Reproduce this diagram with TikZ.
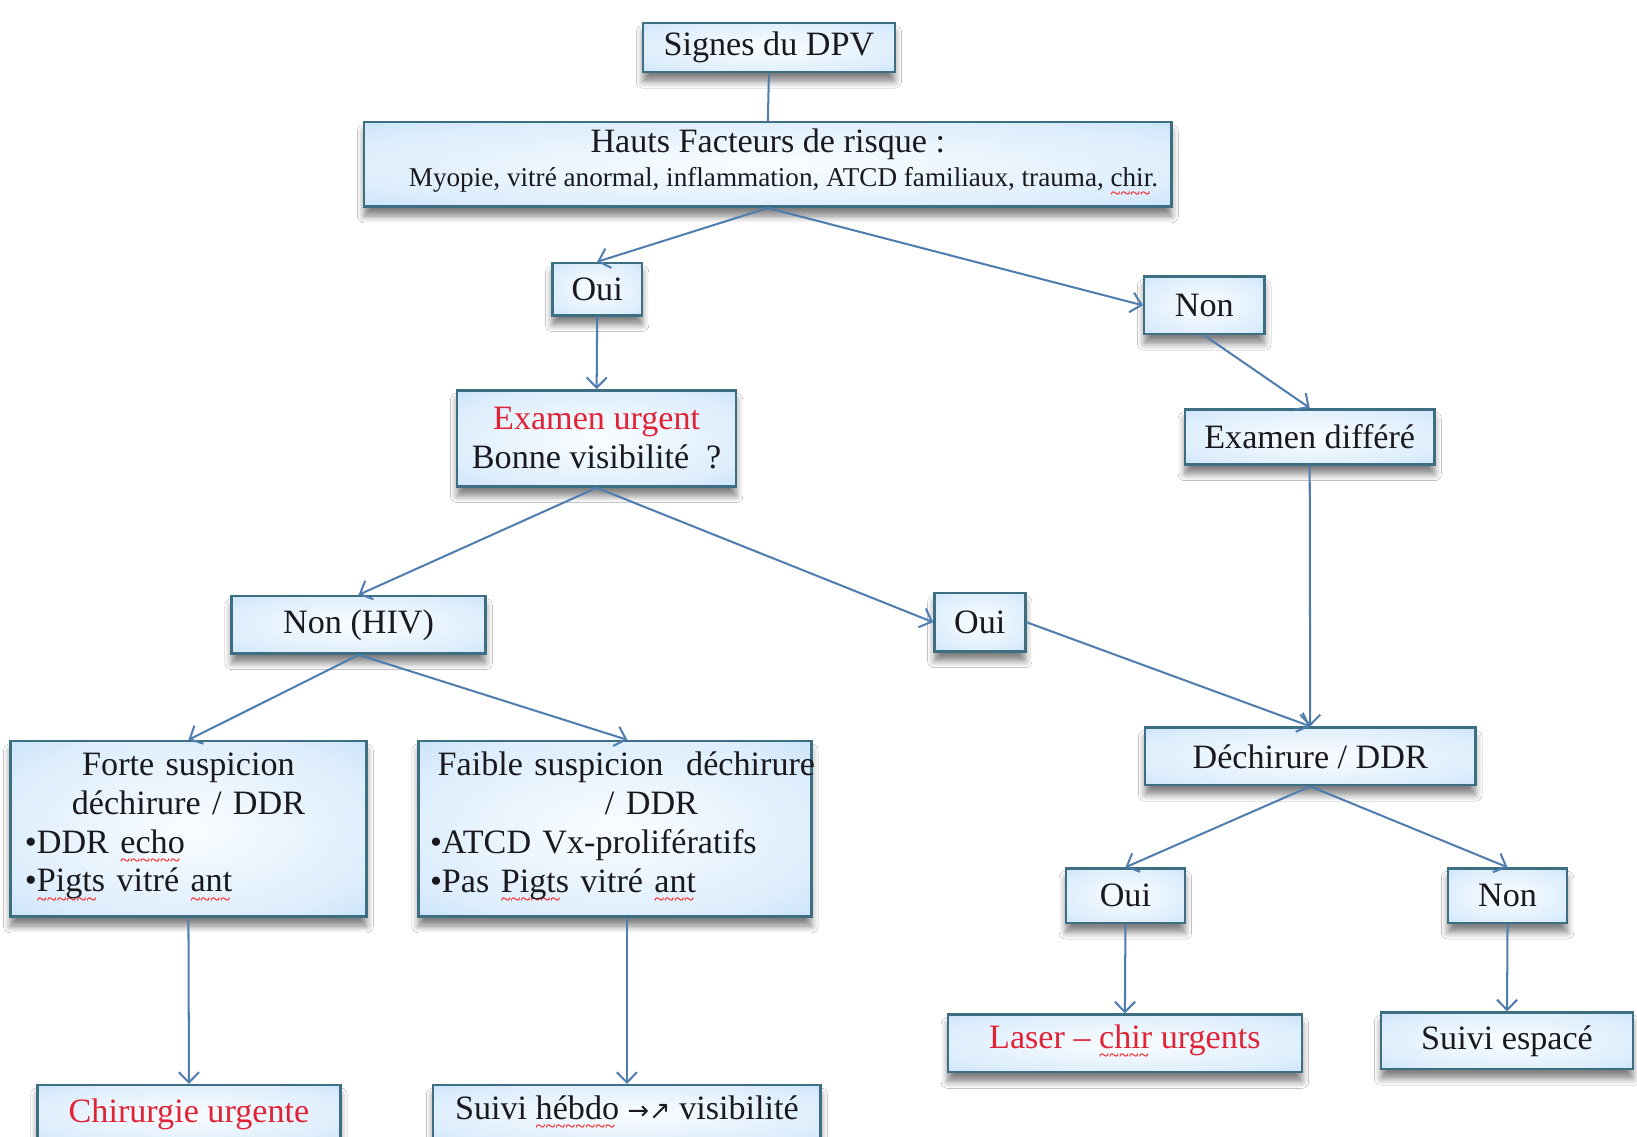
\documentclass[tikz,border=0pt]{standalone}
\usepackage{fontspec}
\setmainfont{Liberation Serif}
\newfontfamily\arrowfont{DejaVu Sans}
\usetikzlibrary{arrows.meta,shadows.blur}
\definecolor{boxedge}{RGB}{62,110,130}
\definecolor{glowin}{RGB}{250,253,255}
\definecolor{glowmid}{RGB}{220,237,252}
\definecolor{glowout}{RGB}{168,208,243}
\definecolor{linkblue}{RGB}{80,125,175}
\definecolor{alert}{RGB}{225,35,55}
\definecolor{ink}{RGB}{25,25,30}
% soft glow used as box fill
\pgfdeclareradialshading{boxglow}{\pgfpoint{0bp}{0bp}}{%
  color(0bp)=(glowin); color(28bp)=(glowmid); color(52bp)=(glowout); color(75bp)=(glowout)}
% spell-check style wavy underline, built from small tildes
\newcommand\sq[1]{\setbox0\hbox{#1}\rlap{\textcolor{red}{\raisebox{-3.6pt}{\hbox to \wd0{\fontsize{5}{5}\selectfont\leaders\hbox{\char"007E}\hfil}}}}#1}

\begin{document}
\begin{tikzpicture}[x=0.01cm,y=-0.01cm,
  box/.style={draw=boxedge, line width=0.7pt, shading=boxglow,
     blur shadow={shadow xshift=0pt, shadow yshift=-0.09cm, shadow blur steps=6, shadow opacity=50},
     text=ink, font=\fontsize{9.3}{10.6}\selectfont, align=center, inner sep=0pt},
  conn/.style={draw=linkblue, line width=0.55pt, -{Straight Barb[length=2.8pt,width=5.5pt]}},
  link/.style={draw=linkblue, line width=0.55pt},
  ]
\path[use as bounding box, clip] (0,0) rectangle (1568,1089);
\fill[white] (0,0) rectangle (1568,1089);

% ---- boxes ----
\node[box, minimum width=2.41cm, minimum height=0.47cm] (sig) at (736.5,45.5) {Signes du DPV};
\node[box, minimum width=7.73cm, minimum height=0.81cm] (hfr) at (735.5,157.5)
  {Hauts Facteurs de risque :\\[-1.5pt]{\fontsize{7.4}{8.4}\selectfont\hspace*{0.3cm}Myopie, vitré anormal, inflammation, ATCD familiaux, trauma, \sq{chir.}}};
\node[box, minimum width=0.86cm, minimum height=0.50cm] (oui1) at (572,277) {Oui};
\node[box, minimum width=1.15cm, minimum height=0.55cm] (non1) at (1153.5,292.5) {Non};
\node[box, minimum width=2.67cm, minimum height=0.92cm] (exu) at (571.5,420)
  {\textcolor{alert}{Examen urgent}\\Bonne visibilité\ \ ?};
\node[box, minimum width=2.39cm, minimum height=0.53cm] (exd) at (1254.5,418.5) {Examen différé};
\node[box, minimum width=2.43cm, minimum height=0.55cm] (nonhiv) at (343.5,598.5) {Non (HIV)};
\node[box, minimum width=0.87cm, minimum height=0.56cm] (oui2) at (938.5,596) {Oui};
\node[box, minimum width=3.41cm, minimum height=1.68cm, text width=3.13cm, align=left] (forte) at (180.5,794)
  {\makebox[\linewidth]{Forte suspicion}\\\makebox[\linewidth]{déchirure / DDR}\\•DDR \sq{echo}\\•\sq{Pigts} vitré \sq{ant}};
\node[box, minimum width=3.76cm, minimum height=1.68cm, text width=3.54cm, align=left] (faible) at (589,794)
  {\makebox[\linewidth]{\hspace{0.22cm}Faible suspicion\ \ déchirure}\\\makebox[\linewidth]{\hspace{0.7cm}/ DDR}\\•ATCD Vx-prolifératifs\\•Pas \sq{Pigts} vitré \sq{ant}};
\node[box, minimum width=3.16cm, minimum height=0.55cm] (dech) at (1255,724.5) {Déchirure / DDR};
\node[box, minimum width=1.14cm, minimum height=0.52cm] (oui3) at (1078,858) {Oui};
\node[box, minimum width=1.14cm, minimum height=0.52cm] (non3) at (1444,858) {Non};
\node[box, minimum width=3.39cm, minimum height=0.55cm] (laser) at (1077.5,999.5)
  {\textcolor{alert}{Laser -- \sq{\textcolor{alert}{chir}} urgents}};
\node[box, minimum width=2.41cm, minimum height=0.54cm] (suivesp) at (1443.5,997) {Suivi espacé};
\node[box, minimum width=2.90cm, minimum height=0.55cm] (chir) at (181,1067)
  {\textcolor{alert}{Chirurgie urgente}};
\node[box, minimum width=3.71cm, minimum height=0.55cm] (hebdo) at (600.5,1067)
  {Suivi \sq{hébdo} {\arrowfont\fontsize{7}{8}\selectfont →↗} visibilité};

% ---- connectors ----
\draw[link] (sig.south) -- (hfr.north);
\draw[conn] (hfr.south) -- (oui1.north);
\draw[conn] (hfr.south) -- (non1.west);
\draw[conn] (oui1.south) -- (exu.north);
\draw[conn] (non1.south) -- (exd.north);
\draw[conn] (exu.south) -- (nonhiv.north);
\draw[conn] (exu.south) -- (oui2.west);
\draw[conn] (exd.south) -- (dech.north);
\draw[conn] (oui2.east) -- (dech.north);
\draw[conn] (nonhiv.south) -- (forte.north);
\draw[conn] (nonhiv.south) -- ([xshift=0.12cm]faible.north);
\draw[conn] (forte.south) -- (chir.north);
\draw[conn] (faible.south -| hebdo.north) -- (hebdo.north);
\draw[conn] (dech.south) -- (oui3.north);
\draw[conn] (dech.south) -- (non3.north);
\draw[conn] (oui3.south) -- (laser.north);
\draw[conn] (non3.south) -- (suivesp.north);
\end{tikzpicture}
\end{document}
